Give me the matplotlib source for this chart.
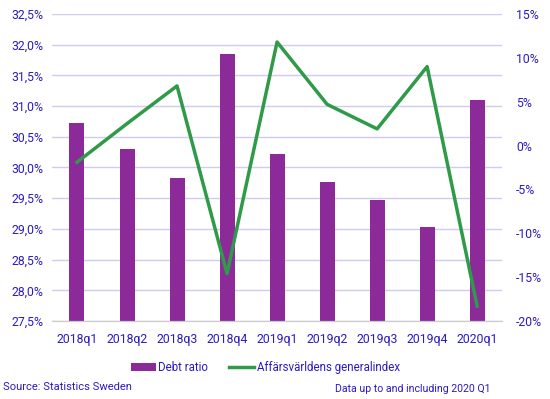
import numpy as np
import matplotlib.pyplot as plt
from matplotlib.ticker import FuncFormatter

plt.rcParams['font.family'] = ['Roboto', 'DejaVu Sans']

quarters = ['2018q1', '2018q2', '2018q3', '2018q4', '2019q1',
            '2019q2', '2019q3', '2019q4', '2020q1']
debt_ratio = [30.73, 30.30, 29.83, 31.85, 30.22, 29.76, 29.47, 29.03, 31.10]
generalindex = [-1.9, 2.5, 6.8, -14.6, 11.8, 4.7, 1.9, 9.0, -18.3]

left_ticks = np.arange(27.5, 32.51, 0.5)
right_ticks = np.arange(-20, 15.1, 5)

text_col = '#2a1bc4'
bar_col = '#8c2a99'
line_col = '#2f9a47'
grid_col = '#d2cbef'

fig = plt.figure(figsize=(5.5, 3.99), dpi=100)
ax = fig.add_axes([0.0945, 0.1955, 0.8185, 0.7695])
x = np.arange(len(quarters))

ax.bar(x, debt_ratio, width=0.3, color=bar_col, label='Debt ratio', zorder=2)
ax.set_ylim(27.5, 32.5)
ax.set_yticks(left_ticks)
ax.yaxis.set_major_formatter(FuncFormatter(lambda v, p: f'{v:.1f}%'.replace('.', ',')))
ax.set_xlim(-0.5, len(quarters) - 0.5)
ax.set_xticks(x)
ax.set_xticklabels(quarters)
ax.grid(axis='y', color=grid_col, linewidth=1, zorder=0)
ax.set_axisbelow(True)

ax2 = ax.twinx()
ax2.plot(x, generalindex, color=line_col, linewidth=2.5, label='Affärsvärldens generalindex', zorder=3)
ax2.set_ylim(-20, 15)
ax2.set_yticks(right_ticks)
ax2.yaxis.set_major_formatter(FuncFormatter(lambda v, p: f'{v:.0f}%'))

for a in (ax, ax2):
    for s in ('top', 'left', 'right'):
        a.spines[s].set_visible(False)
    a.spines['bottom'].set_color('#cccccc')
    a.tick_params(length=0, labelsize=8.8, colors=text_col)
ax.tick_params(axis='x', pad=9)
ax.tick_params(axis='y', pad=6)
ax2.tick_params(axis='y', pad=10)

h1, l1 = ax.get_legend_handles_labels()
h2, l2 = ax2.get_legend_handles_labels()
leg = fig.legend(h1 + h2, l1 + l2, loc='center', bbox_to_anchor=(0.482, 0.078), ncol=2,
                 frameon=False, fontsize=8.3, handlelength=2.2, handletextpad=0.2, columnspacing=1.8)
for t in leg.get_texts():
    t.set_color(text_col)

fig.text(0.005, 0.031, 'Source: Statistics Sweden', fontsize=8, color=text_col, va='center')
fig.text(0.891, 0.025, 'Data up to and including 2020 Q1', fontsize=7.6, color=text_col,
         va='center', ha='right')

fig.savefig('out.png', dpi=100)
